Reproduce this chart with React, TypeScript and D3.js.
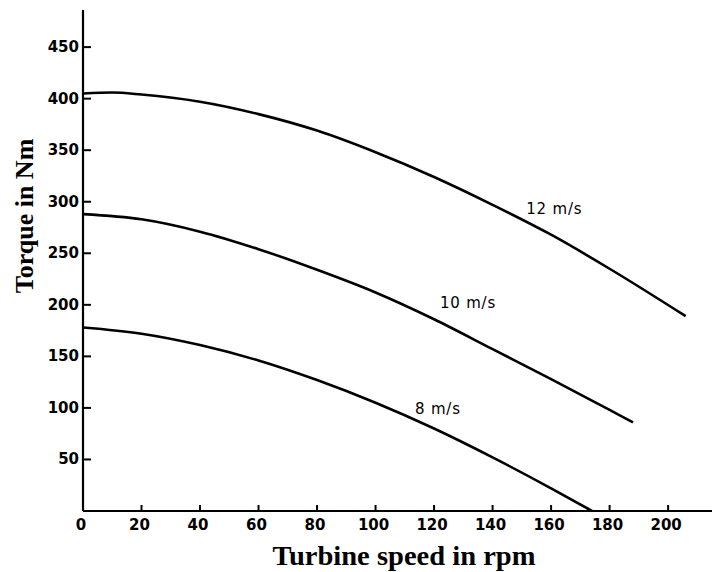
import React from 'react';
import * as d3 from 'd3';

// turbine speed (rpm) and torque (Nm)
const speed12 = [0, 10, 20, 40, 60, 80, 100, 120, 140, 160, 180, 206];
const torque12 = [405, 406, 404, 397, 385, 369, 348, 324, 297, 268, 235, 189];

const speed10 = [0, 20, 40, 60, 80, 100, 120, 140, 160, 180, 188];
const torque10 = [288, 283, 271, 254, 234, 212, 186, 157, 128, 98, 86];

const speed8 = [0, 20, 40, 60, 80, 100, 120, 140, 160, 174];
const torque8 = [178, 172, 161, 146, 127, 105, 80, 52, 22, 0];

const seriesNames = ['12 m/s', '10 m/s', '8 m/s'];
// where each curve name sits, in data units (speed, torque)
const labelSpeed = [151.5, 122, 113.5];
const labelTorque = [288, 197, 94];

const xTicks = [0, 20, 40, 60, 80, 100, 120, 140, 160, 180, 200];
const yTicks = [50, 100, 150, 200, 250, 300, 350, 400, 450];

const W = 712;
const H = 572;

const App = () => {
  const x = d3.scaleLinear().domain([0, 215]).range([83, 712]);
  const y = d3.scaleLinear().domain([0, 486]).range([511, 10]);

  const line = d3.line<[number, number]>()
    .x(d => x(d[0]))
    .y(d => y(d[1]))
    .curve(d3.curveMonotoneX);

  const series = [
    d3.zip(speed12, torque12),
    d3.zip(speed10, torque10),
    d3.zip(speed8, torque8),
  ] as [number, number][][];

  const tickFont = '"DejaVu Sans", sans-serif';
  const titleFont = '"Liberation Serif", "Times New Roman", serif';

  return (
    <svg width={W} height={H} style={{ position: 'absolute', left: 0, top: 0, background: '#fff' }}>
      {/* axes */}
      <line x1={x(0)} x2={x(0)} y1={y(486)} y2={y(0)} stroke="#000" strokeWidth={2.2} />
      <line x1={x(0)} x2={x(215)} y1={y(0)} y2={y(0)} stroke="#000" strokeWidth={2.2} />

      {yTicks.map(v => (
        <g key={'y' + v}>
          <line x1={x(0)} x2={x(0) + 8} y1={y(v)} y2={y(v)} stroke="#000" strokeWidth={2} />
          <text x={x(0) - 4} y={y(v)} textAnchor="end" dominantBaseline="central"
            fontFamily={tickFont} fontWeight="bold" fontSize={15}>{v}</text>
        </g>
      ))}

      {xTicks.map(v => (
        <g key={'x' + v}>
          {v > 0 && <line x1={x(v)} x2={x(v)} y1={y(0)} y2={y(0) - 6} stroke="#000" strokeWidth={2} />}
          <text x={x(v) - 2} y={y(0) + 14} textAnchor="middle" dominantBaseline="central"
            fontFamily={tickFont} fontWeight="bold" fontSize={15}>{v}</text>
        </g>
      ))}

      {/* curves */}
      {series.map((s, i) => (
        <path key={seriesNames[i]} d={line(s) || ''} fill="none" stroke="#000" strokeWidth={2.6} />
      ))}

      {seriesNames.map((name, i) => (
        <text key={'l' + name} x={x(labelSpeed[i])} y={y(labelTorque[i])}
          fontFamily={tickFont} fontSize={15} letterSpacing={0.8}>{name}</text>
      ))}

      {/* axis titles */}
      <text x={404} y={565} textAnchor="middle" fontFamily={titleFont} fontWeight="bold"
        fontSize={27} textLength={263} lengthAdjust="spacingAndGlyphs">Turbine speed in rpm</text>
      <text transform="translate(33,216) rotate(-90)" textAnchor="middle" fontFamily={titleFont}
        fontWeight="bold" fontSize={26}>Torque in Nm</text>
    </svg>
  );
};

export default App;
